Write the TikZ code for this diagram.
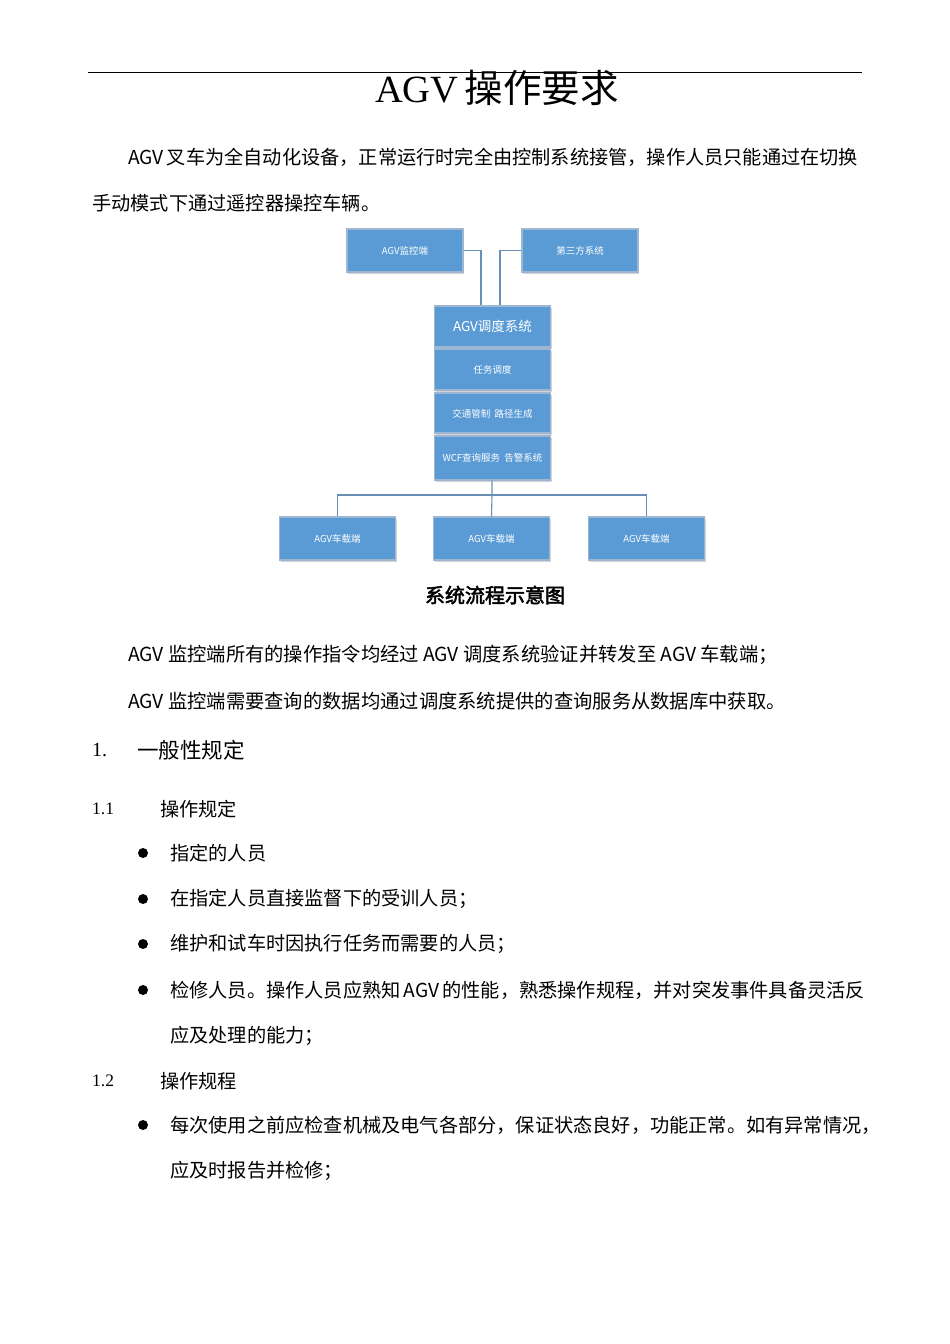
\documentclass[tikz,border=0pt]{standalone}
\usepackage{fontspec}
\setmainfont{Liberation Serif}
\newfontfamily\cjk{Noto Sans CJK SC}
\newfontfamily\cjkb[FakeBold=2.5]{Noto Sans CJK SC}
\usetikzlibrary{shadows}
\definecolor{boxfill}{HTML}{5B9BD5}
\definecolor{boxline}{HTML}{9DB6D2}
\definecolor{conn}{HTML}{6A8FB5}
\begin{document}
\begin{tikzpicture}[x=1pt,y=-1pt,
  bx/.style={draw=boxline,line width=1.2pt,fill=boxfill,minimum width=116pt,minimum height=43pt,inner sep=0pt,text=white,font=\cjk\fontsize{9.5}{10}\selectfont,drop shadow={shadow xshift=1pt,shadow yshift=-1.5pt,opacity=0.35}},
  ln/.style={draw=conn,line width=1.1pt},
  body/.style={anchor=west,inner sep=0pt,font=\cjk\fontsize{19.2}{20}\selectfont},
  bodys/.style={anchor=west,inner sep=0pt,font=\cjk\fontsize{19.3}{20}\selectfont},
  bul/.style={circle,fill=black,inner sep=0pt,minimum size=10pt}]
\useasboundingbox (0,0) rectangle (950,1344);
\fill[white] (0,0) rectangle (950,1344);
\draw[line width=0.8pt] (88,72) -- (862,72);
\node[inner sep=0pt] (title) at (497,88) {\fontsize{38.5}{40}\selectfont AGV\,{\cjk 操作要求}};
\node[body] (p1) at (128,157) {AGV\,叉车为全自动化设备，正常运行时完全由控制系统接管，操作人员只能通过在切换};
\node[body] (p2) at (92,203) {手动模式下通过遥控器操控车辆。};
% diagram
\node[bx] (mon) at (405,250.5) {\raisebox{-7.5pt}{AGV监控端}};
\node[bx] (third) at (580,250.5) {\raisebox{-7.5pt}{第三方系统}};
\node[bx,minimum height=41pt,font=\cjk\fontsize{13.5}{14}\selectfont] (dis) at (492.5,326.5) {\raisebox{-4.5pt}{AGV调度系统}};
\node[bx,minimum height=41pt] (task) at (492.5,369.5) {\raisebox{-9pt}{任务调度}};
\node[bx,minimum height=40pt] (traf) at (492.5,413) {\raisebox{-10pt}{交通管制\ \ 路径生成}};
\node[bx,minimum height=44pt] (wcf) at (492.5,458) {\raisebox{-8pt}{WCF查询服务\ \ 告警系统}};
\node[bx] (c1) at (337.5,538.5) {\raisebox{-8pt}{AGV车载端}};
\node[bx] (c2) at (491.5,538.5) {\raisebox{-8pt}{AGV车载端}};
\node[bx] (c3) at (646.5,538.5) {\raisebox{-8pt}{AGV车载端}};
\coordinate (j) at (492,495);
\draw[ln] (mon.east) -| (dis.north -| 481,0);
\draw[ln] (third.west) -| (dis.north -| 500,0);
\draw[ln] (wcf.south -| j) -- (j) -- (c2.north);
\draw[ln] (c1.north) |- (j) -| (c3.north);
\node[inner sep=0pt,font=\cjkb\fontsize{20}{22}\selectfont] (cap) at (495,595) {系统流程示意图};
\node[bodys] (p3) at (128,655) {AGV 监控端所有的操作指令均经过 AGV 调度系统验证并转发至 AGV 车载端；};
\node[bodys] (p4) at (128,701) {AGV 监控端需要查询的数据均通过调度系统提供的查询服务从数据库中获取。};
\node[anchor=west,inner sep=0pt,font=\fontsize{20}{22}\selectfont] (h1n) at (92,750) {1.};
\node[anchor=west,inner sep=0pt,font=\cjk\fontsize{21.5}{22}\selectfont] (h1) at (137,750) {一般性规定};
\node[anchor=west,inner sep=0pt,font=\fontsize{17.5}{20}\selectfont] (h11n) at (92,809) {1.1};
\node[body] (h11) at (160,809) {操作规定};
\foreach \y/\t [count=\i] in {853/指定的人员,899/在指定人员直接监督下的受训人员；,944/维护和试车时因执行任务而需要的人员；,990/检修人员。操作人员应熟知\,AGV\,的性能，熟悉操作规程，并对突发事件具备灵活反}{
  \node[bul] (b\i) at (143,\y) {};
  \node[body] (t\i) at (170,\y) {\t};
}
\node[body] (t5) at (170,1036) {应及处理的能力；};
\node[anchor=west,inner sep=0pt,font=\fontsize{17.5}{20}\selectfont] (h12n) at (92,1081) {1.2};
\node[body] (h12) at (160,1081) {操作规程};
\node[bul] (b6) at (143,1125) {};
\node[body] (t6) at (170,1125) {每次使用之前应检查机械及电气各部分，保证状态良好，功能正常。如有异常情况，};
\node[body] (t7) at (170,1171) {应及时报告并检修；};
\end{tikzpicture}
\end{document}
